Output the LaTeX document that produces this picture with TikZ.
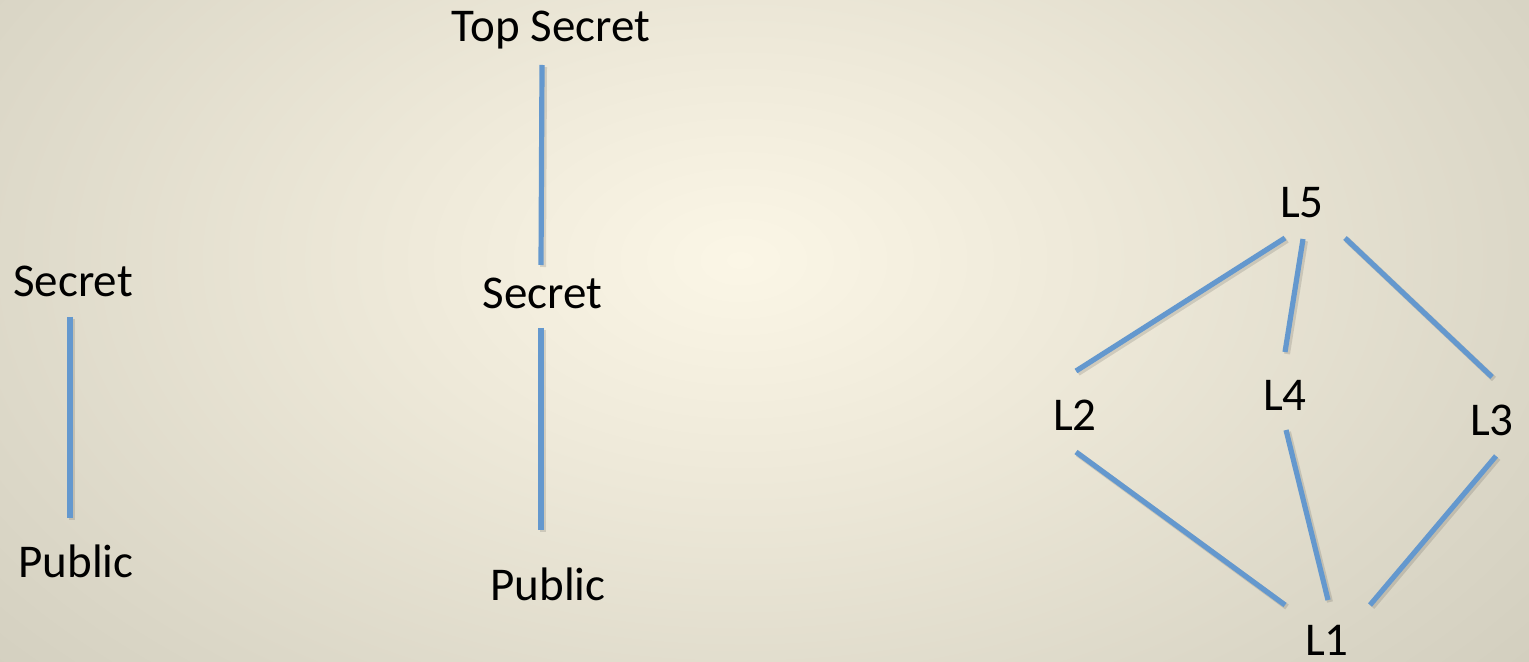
\documentclass[tikz,border=0pt]{standalone}
\usepackage{fontspec}
\setmainfont{Carlito}
\definecolor{bgcA}{HTML}{FBF6E6}
\definecolor{bgcB}{HTML}{EFEADA}
\definecolor{bgcC}{HTML}{DAD6C6}
\definecolor{bgcD}{HTML}{C9C5B5}
\definecolor{bgcE}{HTML}{B3AF9F}
\definecolor{lineblue}{RGB}{100,152,206}
\pgfdeclareradialshading{bgshade}{\pgfpoint{0bp}{0bp}}{color(0bp)=(bgcA); color(10bp)=(bgcB); color(26bp)=(bgcC); color(40bp)=(bgcD); color(64bp)=(bgcE)}
\tikzset{
  lbl/.style={anchor=base, inner sep=0pt, font=\fontsize{23.5}{28}\selectfont, text=black},
  conn/.style={draw=lineblue, line width=2.6pt},
  connshadow/.style={draw=black, opacity=0.12, line width=3pt}
}
\begin{document}
\begin{tikzpicture}[x=0.5pt,y=-0.5pt]
\useasboundingbox (0,0) rectangle (1529,662);
\begin{scope}
\clip (0,0) rectangle (1529,662);
\shade[shading=bgshade] (-60,-240) rectangle (1540,760);
\end{scope}
% labels
\node[lbl] (S1) at (73,297) {Secret};
\node[lbl] (P1) at (76,577) {Public};
\node[lbl] (TS) at (551,42) {Top Secret};
\node[lbl] (S2) at (542.5,308) {Secret};
\node[lbl] (P2) at (548,600) {Public};
\node[lbl] (L5) at (1302,218) {L5};
\node[lbl] (L2) at (1075,430) {L2};
\node[lbl] (L4) at (1285,410) {L4};
\node[lbl] (L3) at (1492,435) {L3};
\node[lbl] (L1) at (1327,655) {L1};
% connectors
\foreach \a/\ax/\ay/\b/\bx/\by in {
  S1/-3/20/P1/-6/-59,
  TS/-9/23/S2/-1.5/-43,
  S2/-1.5/20/P2/-7/-70,
  L5/-17/20/L2/1/-59,
  L5/1/21/L4/0/-58,
  L5/43/20/L3/0/-58,
  L2/1/22/L1/-42/-50,
  L4/1/20/L1/1/-55,
  L3/4/21/L1/43/-50}{
  \draw[connshadow] ([shift={(\ax+2,\ay+2)}]\a.base) -- ([shift={(\bx+2,\by+2)}]\b.base);
  \draw[conn] ([shift={(\ax,\ay)}]\a.base) -- ([shift={(\bx,\by)}]\b.base);
}
\end{tikzpicture}
\end{document}
